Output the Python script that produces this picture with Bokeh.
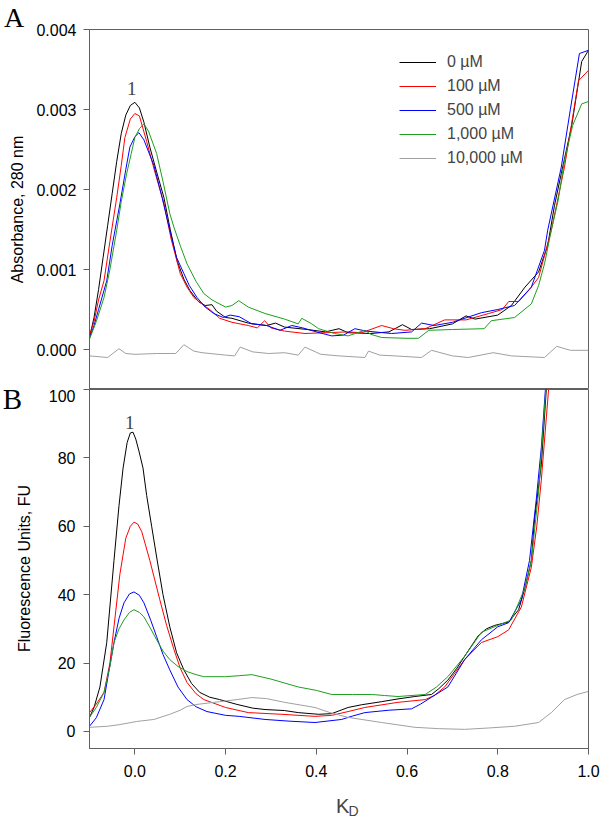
import math
from bokeh.plotting import figure
from bokeh.layouts import column, row
from bokeh.models import Range1d, FixedTicker, PrintfTickFormatter, Label, Legend, LegendItem
from bokeh.core.properties import value
from bokeh.embed import file_html
from bokeh.resources import INLINE

# ---------------- data ----------------
series_names = ["0 µM", "100 µM", "500 µM", "1,000 µM", "10,000 µM"]
series_colors = ["#000000", "#ff0000", "#0000ff", "#1e9e1e", "#a0a0a0"]

x_ticks = [0.0, 0.2, 0.4, 0.6, 0.8, 1.0]
a_ticks = [0.000, 0.001, 0.002, 0.003, 0.004]
b_ticks = [0, 20, 40, 60, 80, 100]

panel_letters = ["A", "B"]
y_titles = ["Absorbance, 280 nm", "Fluorescence Units, FU"]

# Panel A: absorbance (x10^-3)
a_x_0 = [-0.1, -0.09, -0.08, -0.07, -0.06, -0.05, -0.04, -0.03, -0.02, -0.01, 0.0, 0.01, 0.02, 0.033, 0.048, 0.064, 0.078, 0.093, 0.108, 0.121, 0.14, 0.155, 0.17, 0.18, 0.2, 0.214, 0.25, 0.29, 0.31, 0.33, 0.38, 0.42, 0.45, 0.47, 0.52, 0.56, 0.59, 0.61, 0.65, 0.70, 0.73, 0.75, 0.8, 0.83, 0.86, 0.89, 0.91, 0.925, 0.94, 0.963, 0.985, 1.0]
a_y_0 = [0.15, 0.4, 0.75, 1.15, 1.55, 1.95, 2.35, 2.7, 2.93, 3.05, 3.09, 3.02, 2.84, 2.53, 2.22, 1.9, 1.5, 1.11, 0.88, 0.74, 0.6, 0.55, 0.56, 0.48, 0.40, 0.39, 0.33, 0.30, 0.33, 0.28, 0.25, 0.22, 0.26, 0.21, 0.2, 0.22, 0.31, 0.25, 0.26, 0.32, 0.42, 0.38, 0.43, 0.55, 0.78, 0.97, 1.3, 1.8, 2.2, 2.8, 3.6, 3.74]

a_x_1 = [-0.1, -0.09, -0.08, -0.068, -0.055, -0.04, -0.03, -0.022, -0.01, 0.0, 0.01, 0.026, 0.045, 0.064, 0.08, 0.1, 0.115, 0.13, 0.15, 0.165, 0.187, 0.214, 0.25, 0.27, 0.286, 0.3, 0.33, 0.375, 0.42, 0.47, 0.5, 0.544, 0.57, 0.595, 0.64, 0.683, 0.73, 0.78, 0.81, 0.824, 0.846, 0.87, 0.89, 0.918, 0.947, 0.965, 0.978, 1.0]
a_y_1 = [0.18, 0.35, 0.62, 0.86, 1.35, 1.9, 2.3, 2.65, 2.88, 2.95, 2.92, 2.6, 2.2, 1.83, 1.38, 0.95, 0.78, 0.65, 0.56, 0.5, 0.39, 0.34, 0.3, 0.27, 0.36, 0.27, 0.23, 0.20, 0.21, 0.22, 0.21, 0.30, 0.26, 0.24, 0.26, 0.37, 0.37, 0.45, 0.5, 0.6, 0.6, 0.75, 0.9, 1.49, 2.28, 2.9, 3.36, 3.49]

a_x_2 = [-0.1, -0.09, -0.08, -0.062, -0.05, -0.033, -0.02, -0.011, 0.0, 0.009, 0.02, 0.042, 0.06, 0.077, 0.092, 0.108, 0.12, 0.137, 0.155, 0.174, 0.195, 0.21, 0.23, 0.258, 0.29, 0.32, 0.346, 0.37, 0.4, 0.434, 0.46, 0.485, 0.51, 0.566, 0.61, 0.632, 0.66, 0.7, 0.764, 0.8, 0.837, 0.874, 0.903, 0.91, 0.94, 0.96, 0.98, 1.0]
a_y_2 = [0.14, 0.3, 0.5, 0.86, 1.3, 1.82, 2.25, 2.53, 2.66, 2.71, 2.62, 2.3, 1.9, 1.49, 1.15, 0.95, 0.8, 0.65, 0.53, 0.45, 0.4, 0.43, 0.41, 0.32, 0.3, 0.24, 0.30, 0.27, 0.22, 0.17, 0.18, 0.26, 0.23, 0.2, 0.22, 0.33, 0.3, 0.34, 0.46, 0.5, 0.55, 0.78, 1.24, 1.49, 2.28, 3.0, 3.7, 3.74]

a_x_3 = [-0.1, -0.085, -0.068, -0.055, -0.04, -0.03, -0.018, -0.008, 0.0, 0.01, 0.02, 0.03, 0.048, 0.062, 0.077, 0.086, 0.1, 0.115, 0.135, 0.152, 0.17, 0.2, 0.214, 0.229, 0.25, 0.287, 0.33, 0.36, 0.368, 0.39, 0.405, 0.44, 0.47, 0.507, 0.52, 0.544, 0.6, 0.625, 0.648, 0.7, 0.77, 0.786, 0.837, 0.874, 0.89, 0.903, 0.918, 0.933, 0.947, 0.965, 0.985, 1.0]
a_y_3 = [0.13, 0.35, 0.65, 1.0, 1.49, 1.85, 2.2, 2.45, 2.65, 2.76, 2.82, 2.73, 2.45, 2.1, 1.7, 1.53, 1.3, 1.07, 0.85, 0.7, 0.62, 0.53, 0.55, 0.61, 0.53, 0.45, 0.38, 0.32, 0.39, 0.32, 0.26, 0.2, 0.17, 0.24, 0.19, 0.15, 0.14, 0.14, 0.24, 0.25, 0.26, 0.36, 0.4, 0.57, 0.8, 1.07, 1.49, 1.86, 2.36, 2.8, 3.07, 3.1]

a_x_4 = [-0.1, -0.06, -0.035, -0.02, 0.0, 0.05, 0.09, 0.108, 0.13, 0.148, 0.2, 0.22, 0.232, 0.26, 0.295, 0.33, 0.36, 0.375, 0.41, 0.45, 0.507, 0.515, 0.54, 0.573, 0.632, 0.654, 0.7, 0.735, 0.79, 0.83, 0.903, 0.93, 0.96, 1.0]
a_y_4 = [-0.08, -0.1, 0.01, -0.05, -0.06, -0.05, -0.05, 0.06, -0.02, -0.04, -0.07, -0.08, 0.03, -0.03, -0.05, -0.04, -0.07, 0.03, -0.06, -0.08, -0.1, -0.02, -0.07, -0.08, -0.1, -0.01, -0.08, -0.1, -0.04, -0.08, -0.1, 0.04, -0.01, -0.01]

# Panel B: fluorescence (FU)
b_x_0 = [-0.1, -0.09, -0.077, -0.062, -0.046, -0.035, -0.026, -0.017, -0.01, -0.004, 0.002, 0.009, 0.018, 0.026, 0.037, 0.048, 0.062, 0.077, 0.092, 0.108, 0.125, 0.143, 0.165, 0.187, 0.225, 0.26, 0.287, 0.33, 0.36, 0.405, 0.434, 0.47, 0.5, 0.544, 0.58, 0.617, 0.654, 0.67, 0.69, 0.71, 0.727, 0.757, 0.775, 0.793, 0.824, 0.846, 0.86, 0.874, 0.881, 0.896, 0.907, 0.92]
b_y_0 = [4.1, 7, 13, 26, 50, 66, 77, 84.5, 87.3, 87.5, 85.5, 82, 77, 69, 60, 51, 40, 30.6, 23, 18, 14, 11.4, 10, 9.3, 7.9, 6.8, 6.4, 6.1, 5.5, 5.0, 5.2, 7, 7.8, 8.7, 9.5, 10.2, 10.8, 12.5, 15, 18.5, 22, 28, 30, 31, 32, 35.6, 42, 50, 62, 78, 100, 125]

b_x_1 = [-0.1, -0.085, -0.068, -0.055, -0.046, -0.033, -0.02, -0.01, -0.002, 0.006, 0.015, 0.033, 0.055, 0.07, 0.086, 0.1, 0.115, 0.135, 0.152, 0.2, 0.25, 0.324, 0.397, 0.434, 0.47, 0.507, 0.58, 0.64, 0.66, 0.683, 0.705, 0.727, 0.764, 0.8, 0.824, 0.852, 0.874, 0.886, 0.896, 0.912, 0.925]
b_y_1 = [5.5, 8, 11.4, 20, 30.6, 46, 56.5, 60, 61.2, 60.7, 58.5, 50, 38.5, 31, 24, 18.5, 14.3, 11, 9.3, 7, 5.5, 5, 4.4, 4.7, 5.8, 7, 8.5, 9.3, 10.5, 13, 17, 21, 26, 27.7, 29.7, 36.4, 48, 60, 73.5, 100, 125]

b_x_2 = [-0.1, -0.085, -0.068, -0.058, -0.046, -0.035, -0.024, -0.012, -0.002, 0.01, 0.02, 0.035, 0.048, 0.062, 0.077, 0.095, 0.115, 0.135, 0.159, 0.2, 0.23, 0.287, 0.34, 0.397, 0.456, 0.48, 0.507, 0.56, 0.61, 0.63, 0.654, 0.69, 0.727, 0.764, 0.8, 0.824, 0.852, 0.87, 0.885, 0.896, 0.905, 0.915]
b_y_2 = [1.5, 4, 9.3, 17, 26, 33, 37.6, 40.2, 40.8, 39.8, 37.6, 32.5, 27.7, 22.5, 18, 13, 9.3, 7.2, 5.8, 4.7, 4.4, 3.5, 3, 2.6, 3.5, 4.5, 5.5, 6.2, 6.6, 8, 10, 13, 21, 26.8, 30.6, 31.8, 38.5, 50, 68, 83, 100, 125]

b_x_3 = [-0.1, -0.085, -0.068, -0.055, -0.046, -0.035, -0.024, -0.012, -0.002, 0.01, 0.02, 0.035, 0.048, 0.062, 0.077, 0.095, 0.115, 0.135, 0.152, 0.2, 0.23, 0.258, 0.3, 0.36, 0.4, 0.434, 0.48, 0.522, 0.55, 0.58, 0.64, 0.665, 0.69, 0.727, 0.764, 0.8, 0.83, 0.86, 0.874, 0.89, 0.906, 0.92]
b_y_3 = [4.1, 7, 11.4, 19, 26, 30, 32.6, 34.8, 35.6, 34.8, 33.5, 30, 26.8, 23.5, 21, 19, 17.5, 16.6, 16, 16, 16.3, 16.6, 15.3, 13, 12, 10.8, 10.8, 10.8, 10.5, 10.2, 10.8, 13, 16, 22, 29, 31, 32.6, 42, 50, 70, 100, 125]

b_x_4 = [-0.1, -0.06, -0.033, 0.004, 0.042, 0.077, 0.1, 0.115, 0.137, 0.187, 0.225, 0.258, 0.29, 0.33, 0.397, 0.43, 0.47, 0.544, 0.617, 0.67, 0.727, 0.78, 0.837, 0.89, 0.918, 0.947, 0.975, 1.0]
b_y_4 = [1.2, 1.5, 2, 2.9, 3.5, 5, 6.2, 7.3, 7.9, 8.7, 9.3, 9.9, 9.6, 8.5, 7, 5.5, 4.1, 2.6, 1.2, 0.8, 0.6, 1.0, 1.5, 2.6, 5.5, 9.3, 10.8, 11.7]

a_xs = [a_x_0, a_x_1, a_x_2, a_x_3, a_x_4]
a_ys = [a_y_0, a_y_1, a_y_2, a_y_3, a_y_4]
b_xs = [b_x_0, b_x_1, b_x_2, b_x_3, b_x_4]
b_ys = [b_y_0, b_y_1, b_y_2, b_y_3, b_y_4]

# ---------------- layout constants ----------------
FONT = "Liberation Sans"
SERIF = "Liberation Serif"
AX = "#606060"
W, H = 600, 819
H1 = 389                  # height of panel A figure
H2 = H - H1               # height of panel B figure
LW = 33                   # width of the left text strip
FRAME_LEFT = 87


def style_axis(ax):
    ax.axis_line_color = AX
    ax.major_tick_line_color = AX
    ax.major_tick_out = 6
    ax.major_tick_in = 0
    ax.minor_tick_out = 0
    ax.minor_tick_in = 0
    ax.major_label_text_font = FONT
    ax.major_label_text_font_size = "16px"
    ax.major_label_text_color = "black"


x_range = Range1d(-0.1, 1.0)

# ---------------- left text strip (panel letters and y titles) ----------------
s = figure(width=LW, height=H, x_range=Range1d(0, LW), y_range=Range1d(H, 0),
           x_axis_location=None, y_axis_location=None, output_backend="svg",
           toolbar_location=None, min_border=0)
s.grid.visible = False
s.outline_line_color = None
s.text(x=[13.5], y=[1], text=[panel_letters[0]], text_font=value(SERIF),
       text_font_size="28px", text_align="center", text_baseline="top", text_color="black")
s.text(x=[12], y=[398.5], text=[panel_letters[1]], text_font=value(SERIF),
       text_font_size="29px", text_align="center", text_baseline="middle", text_color="black")
s.text(x=[17, 24], y=[209, 568], text=y_titles, text_font=value(FONT), text_font_size="16px",
       text_align="center", text_baseline="middle", angle=math.pi / 2, text_color="black")

# ---------------- panel A ----------------
p1 = figure(width=W - LW, height=H1, x_range=x_range, y_range=Range1d(-0.0005, 0.004),
            x_axis_location=None, output_backend="svg", toolbar_location=None,
            min_border_left=FRAME_LEFT - LW, min_border_right=12, min_border_top=29, min_border_bottom=0)
p1.grid.visible = False
p1.outline_line_color = AX
style_axis(p1.yaxis[0])
p1.yaxis[0].ticker = FixedTicker(ticks=a_ticks)
p1.yaxis[0].formatter = PrintfTickFormatter(format="%.3f")
p1.yaxis[0].major_label_standoff = 7

items = []
for xs, ys, name, col in zip(a_xs, a_ys, series_names, series_colors):
    r = p1.line(xs, [v / 1000.0 for v in ys], line_color=col, line_width=1)
    items.append(LegendItem(label=name, renderers=[r]))

lg = Legend(items=items, location=(310, 220), background_fill_alpha=0, border_line_color=None,
            padding=0, margin=0, spacing=2, label_height=22, glyph_height=22, glyph_width=37,
            label_standoff=11, label_text_font=FONT, label_text_font_size="16px")
p1.add_layout(lg, "center")

p1.add_layout(Label(x=-0.0066, y=0.00326, text="1", text_font=SERIF, text_font_size="19px",
                    text_align="center", text_baseline="middle"))

# ---------------- panel B ----------------
p2 = figure(width=W - LW, height=H2, x_range=x_range, y_range=Range1d(-5, 100),
            output_backend="svg", toolbar_location=None,
            min_border_left=FRAME_LEFT - LW, min_border_right=12, min_border_top=0,
            min_border_bottom=H2 - 359)
p2.grid.visible = False
p2.outline_line_color = AX
style_axis(p2.yaxis[0])
style_axis(p2.xaxis[0])
p2.yaxis[0].ticker = FixedTicker(ticks=b_ticks)
p2.yaxis[0].major_label_standoff = 8
p2.xaxis[0].ticker = FixedTicker(ticks=x_ticks)
p2.xaxis[0].formatter = PrintfTickFormatter(format="%.1f")
p2.xaxis[0].major_label_standoff = 10

for xs, ys, col in zip(b_xs, b_ys, series_colors):
    p2.line(xs, ys, line_color=col, line_width=1)

p2.add_layout(Label(x=-0.011, y=90.4, text="1", text_font=SERIF, text_font_size="19px",
                    text_align="center", text_baseline="middle"))
p2.add_layout(Label(x=0.458, y=-21.7, text="K", text_font=FONT, text_font_size="20px",
                    text_align="center", text_baseline="middle"), "below")
p2.add_layout(Label(x=0.482, y=-23.3, text="D", text_font=FONT, text_font_size="14px",
                    text_align="center", text_baseline="middle"), "right")

layout = row(s, column(p1, p2, spacing=0), spacing=0)
open("out.html", "w").write(file_html(layout, INLINE))
